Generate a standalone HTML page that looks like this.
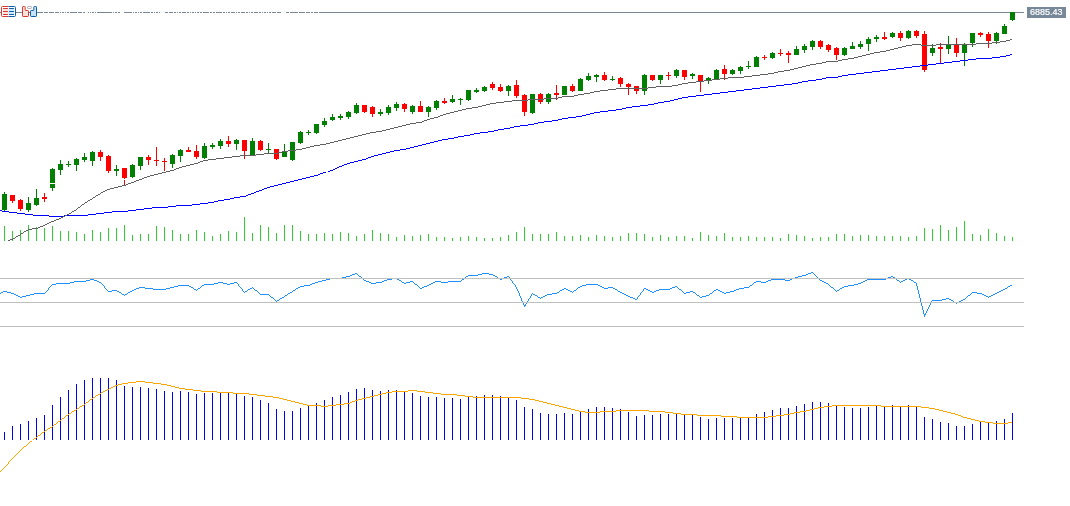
<!DOCTYPE html>
<html lang="en">
<head>
<meta charset="utf-8">
<title>Chart</title>
<style>
html,body{margin:0;padding:0;background:#fff;}
body{width:1070px;height:506px;overflow:hidden;position:relative;font-family:"Liberation Sans",sans-serif;}
#chart{position:absolute;left:0;top:0;display:block;}
#price{position:absolute;left:1027px;top:7px;width:39px;height:11px;background:#778899;color:#fff;font-size:9px;line-height:11px;text-indent:3px;white-space:nowrap;overflow:hidden;-webkit-text-stroke:0.2px #fff;}
.g{fill:#008000}.r{fill:#ff0000}
</style>
</head>
<body>
<svg id="chart" width="1070" height="506" viewBox="0 0 1070 506">
<g shape-rendering="crispEdges">
<path d="M4.5 226V241M12.5 231V241M20.5 230V241M28.5 225V241M36.5 227V241M44.5 228V241M52.5 226V241M60.5 231V241M68.5 231V241M76.5 232V241M84.5 234V241M92.5 230V241M100.5 232V241M108.5 228V241M116.5 228V241M124.5 225V241M132.5 235V241M140.5 234V241M148.5 234V241M156.5 226V241M164.5 227V241M172.5 230V241M180.5 234V241M188.5 234V241M196.5 230V241M204.5 232V241M212.5 236V241M220.5 234V241M228.5 231V241M236.5 232V241M244.5 217V241M252.5 233V241M260.5 225V241M268.5 227V241M276.5 233V241M284.5 225V241M292.5 225V241M300.5 231V241M308.5 234V241M316.5 234V241M324.5 233V241M332.5 234V241M340.5 232V241M348.5 233V241M356.5 236V241M364.5 234V241M372.5 230V241M380.5 233V241M388.5 234V241M396.5 237V241M404.5 235V241M412.5 236V241M420.5 235V241M428.5 234V241M436.5 237V241M444.5 237V241M452.5 238V241M460.5 237V241M468.5 236V241M476.5 237V241M484.5 238V241M492.5 238V241M500.5 237V241M508.5 235V241M516.5 232V241M524.5 227V241M532.5 234V241M540.5 234V241M548.5 234V241M556.5 232V241M564.5 236V241M572.5 236V241M580.5 235V241M588.5 237V241M596.5 235V241M604.5 236V241M612.5 237V241M620.5 236V241M628.5 233V241M636.5 233V241M644.5 234V241M652.5 237V241M660.5 235V241M668.5 237V241M676.5 236V241M684.5 236V241M692.5 238V241M700.5 232V241M708.5 235V241M716.5 236V241M724.5 233V241M732.5 237V241M740.5 237V241M748.5 236V241M756.5 237V241M764.5 237V241M772.5 237V241M780.5 238V241M788.5 234V241M796.5 235V241M804.5 236V241M812.5 238V241M820.5 237V241M828.5 237V241M836.5 234V241M844.5 234V241M852.5 236V241M860.5 235V241M868.5 235V241M876.5 236V241M884.5 236V241M892.5 236V241M900.5 236V241M908.5 237V241M916.5 236V241M924.5 228V241M932.5 229V241M940.5 225V241M948.5 230V241M956.5 227V241M964.5 221V241M972.5 234V241M980.5 235V241M988.5 229V241M996.5 233V241M1004.5 236V241M1012.5 237V241" stroke="#32cd32" stroke-width="1" fill="none"/>
<path d="M0 12.5H43M44 12.5H48M49 12.5H54M55 12.5H59M60 12.5H61M62 12.5H64M65 12.5H66M67 12.5H69M70 12.5H77M78 12.5H82M83 12.5H85M88 12.5H89M90 12.5H91M92 12.5H94M95 12.5H96M97 12.5H112M113 12.5H114M115 12.5H117M118 12.5H120M124 12.5H132M133 12.5H134M135 12.5H137M138 12.5H139M140 12.5H142M143 12.5H150M151 12.5H153M154 12.5H155M156 12.5H158M159 12.5H160M165 12.5H168M169 12.5H173M174 12.5H176M177 12.5H178M179 12.5H181M182 12.5H186M187 12.5H189M190 12.5H191M192 12.5H194M195 12.5H196M197 12.5H199M200 12.5H202M203 12.5H209M210 12.5H212M213 12.5H215M216 12.5H222M223 12.5H225M226 12.5H227M228 12.5H230M231 12.5H235M236 12.5H237M238 12.5H240M241 12.5H245M246 12.5H248M249 12.5H250M251 12.5H253M254 12.5H258M259 12.5H261M262 12.5H263M264 12.5H266M267 12.5H268M269 12.5H271M272 12.5H276M277 12.5H281M286 12.5H289M290 12.5H298M299 12.5H305M306 12.5H310M311 12.5H313M314 12.5H318M319 12.5H1024" stroke="#778899" stroke-width="1" fill="none"/>
<path class="g" d="M4 192h1v19h-1zM2 194h5v16h-5zM28 197h1v15h-1zM26 203h5v7h-5zM36 189h1v17h-1zM34 198h5v7h-5zM52 168h1v23h-1zM50 169h5v19h-5zM60 160h1v15h-1zM58 164h5v6h-5zM68 161h1v6h-1zM66 164h5v1h-5zM76 158h1v13h-1zM74 159h5v6h-5zM84 153h1v9h-1zM82 157h5v3h-5zM92 151h1v15h-1zM90 152h5v9h-5zM116 165h1v11h-1zM114 169h5v2h-5zM132 164h1v14h-1zM130 165h5v12h-5zM140 157h1v13h-1zM138 157h5v9h-5zM172 154h1v14h-1zM170 155h5v9h-5zM180 149h1v13h-1zM178 150h5v6h-5zM204 143h1v16h-1zM202 146h5v12h-5zM212 143h1v6h-1zM210 145h5v2h-5zM220 139h1v10h-1zM218 141h5v5h-5zM236 139h1v11h-1zM234 140h5v4h-5zM252 138h1v18h-1zM250 141h5v14h-5zM268 143h1v10h-1zM266 149h5v1h-5zM284 144h1v13h-1zM282 152h5v5h-5zM292 142h1v19h-1zM290 142h5v18h-5zM300 131h1v13h-1zM298 132h5v11h-5zM308 130h1v5h-1zM306 132h5v1h-5zM316 124h1v10h-1zM314 124h5v9h-5zM324 118h1v9h-1zM322 121h5v4h-5zM332 114h1v7h-1zM330 117h5v3h-5zM340 114h1v6h-1zM338 116h5v2h-5zM348 111h1v8h-1zM346 112h5v5h-5zM356 103h1v11h-1zM354 105h5v8h-5zM380 109h1v7h-1zM378 112h5v2h-5zM388 105h1v10h-1zM386 107h5v6h-5zM396 102h1v9h-1zM394 104h5v4h-5zM412 105h1v9h-1zM410 106h5v6h-5zM428 106h1v11h-1zM426 107h5v5h-5zM436 100h1v10h-1zM434 101h5v7h-5zM452 95h1v8h-1zM450 99h5v3h-5zM460 98h1v7h-1zM458 99h5v1h-5zM468 90h1v11h-1zM466 90h5v10h-5zM476 88h1v5h-1zM474 90h5v2h-5zM484 86h1v6h-1zM482 87h5v4h-5zM508 85h1v11h-1zM506 86h5v5h-5zM532 94h1v20h-1zM530 94h5v19h-5zM548 93h1v11h-1zM546 94h5v8h-5zM564 86h1v9h-1zM562 86h5v9h-5zM580 78h1v13h-1zM578 79h5v12h-5zM588 73h1v8h-1zM586 76h5v4h-5zM596 74h1v8h-1zM594 75h5v2h-5zM612 76h1v5h-1zM610 79h5v1h-5zM644 74h1v21h-1zM642 75h5v16h-5zM660 75h1v9h-1zM658 75h5v5h-5zM676 69h1v9h-1zM674 70h5v6h-5zM692 73h1v6h-1zM690 74h5v2h-5zM708 77h1v7h-1zM706 78h5v2h-5zM716 69h1v11h-1zM714 70h5v10h-5zM732 69h1v6h-1zM730 70h5v4h-5zM740 66h1v8h-1zM738 67h5v4h-5zM748 61h1v8h-1zM746 66h5v1h-5zM756 56h1v11h-1zM754 57h5v10h-5zM772 52h1v7h-1zM770 53h5v5h-5zM796 46h1v9h-1zM794 49h5v6h-5zM804 44h1v9h-1zM802 46h5v4h-5zM812 40h1v10h-1zM810 41h5v6h-5zM844 47h1v9h-1zM842 48h5v7h-5zM852 42h1v7h-1zM850 46h5v3h-5zM860 41h1v8h-1zM858 44h5v3h-5zM868 37h1v14h-1zM866 39h5v5h-5zM876 35h1v7h-1zM874 37h5v2h-5zM892 32h1v6h-1zM890 33h5v4h-5zM908 30h1v9h-1zM906 31h5v7h-5zM932 44h1v12h-1zM930 48h5v5h-5zM948 36h1v18h-1zM946 45h5v4h-5zM964 43h1v23h-1zM962 45h5v8h-5zM972 33h1v14h-1zM970 33h5v10h-5zM996 32h1v12h-1zM994 33h5v8h-5zM1004 24h1v10h-1zM1002 26h5v8h-5zM1012 12h1v9h-1zM1010 12h5v8h-5z"/>
<path class="r" d="M12 195h1v8h-1zM10 195h5v6h-5zM20 199h1v12h-1zM18 200h5v9h-5zM44 193h1v9h-1zM42 197h5v2h-5zM100 150h1v11h-1zM98 152h5v5h-5zM108 155h1v18h-1zM106 156h5v15h-5zM124 168h1v17h-1zM122 168h5v10h-5zM148 155h1v10h-1zM146 157h5v3h-5zM156 147h1v19h-1zM154 160h5v1h-5zM164 158h1v13h-1zM162 161h5v1h-5zM188 147h1v5h-1zM186 150h5v2h-5zM196 145h1v14h-1zM194 151h5v6h-5zM228 136h1v11h-1zM226 141h5v3h-5zM244 140h1v19h-1zM242 140h5v11h-5zM260 140h1v11h-1zM258 141h5v9h-5zM276 149h1v11h-1zM274 149h5v10h-5zM364 105h1v8h-1zM362 105h5v7h-5zM372 106h1v11h-1zM370 107h5v7h-5zM404 103h1v9h-1zM402 104h5v5h-5zM420 101h1v11h-1zM418 106h5v6h-5zM444 98h1v6h-1zM442 101h5v2h-5zM492 82h1v8h-1zM490 84h5v4h-5zM500 84h1v8h-1zM498 87h5v4h-5zM516 80h1v18h-1zM514 85h5v11h-5zM524 94h1v22h-1zM522 95h5v17h-5zM540 93h1v11h-1zM538 94h5v8h-5zM556 85h1v15h-1zM554 93h5v2h-5zM572 84h1v8h-1zM570 86h5v5h-5zM604 72h1v9h-1zM602 75h5v5h-5zM620 77h1v10h-1zM618 78h5v6h-5zM628 83h1v12h-1zM626 84h5v3h-5zM636 86h1v8h-1zM634 86h5v5h-5zM652 75h1v6h-1zM650 75h5v5h-5zM668 72h1v8h-1zM666 75h5v1h-5zM684 70h1v10h-1zM682 70h5v7h-5zM700 75h1v17h-1zM698 75h5v6h-5zM724 65h1v15h-1zM722 69h5v5h-5zM764 55h1v5h-1zM762 57h5v1h-5zM780 49h1v7h-1zM778 53h5v1h-5zM788 51h1v12h-1zM786 53h5v2h-5zM820 40h1v9h-1zM818 41h5v6h-5zM828 44h1v8h-1zM826 45h5v5h-5zM836 47h1v13h-1zM834 48h5v7h-5zM884 32h1v8h-1zM882 37h5v2h-5zM900 31h1v10h-1zM898 33h5v5h-5zM916 30h1v8h-1zM914 31h5v5h-5zM924 31h1v41h-1zM922 34h5v36h-5zM940 43h1v20h-1zM938 47h5v2h-5zM956 38h1v19h-1zM954 45h5v8h-5zM980 32h1v5h-1zM978 33h5v2h-5zM988 32h1v16h-1zM986 34h5v7h-5z"/>
<path d="M-1 210.5h3M2 211.5h7M9 212.5h8M17 213.5h8M25 214.5h8M33 215.5h16M49 216.5h15M64 215.5h24M88 214.5h8M96 213.5h8M104 212.5h8M112 211.5h16M128 210.5h8M136 209.5h8M144 208.5h8M152 207.5h16M168 206.5h8M176 205.5h16M192 204.5h8M200 203.5h8M208 202.5h6M214 201.5h4M218 200.5h6M224 199.5h6M230 198.5h4M234 197.5h6M240 196.5h6M246 195.5h2M248 194.5h3M251 193.5h3M254 192.5h2M256 191.5h3M259 190.5h3M262 189.5h2M264 188.5h3M267 187.5h3M270 186.5h4M274 185.5h4M278 184.5h4M282 183.5h4M286 182.5h4M290 181.5h4M294 180.5h4M298 179.5h4M302 178.5h4M306 177.5h4M310 176.5h4M314 175.5h4M318 174.5h2M320 173.5h3M323 172.5h3M326 171.5h4M330 170.5h3M333 169.5h2M335 168.5h2M337 167.5h2M339 166.5h3M342 165.5h2M344 164.5h3M347 163.5h3M350 162.5h4M354 161.5h4M358 160.5h4M362 159.5h4M366 158.5h2M368 157.5h3M371 156.5h3M374 155.5h4M378 154.5h4M382 153.5h4M386 152.5h4M390 151.5h4M394 150.5h6M400 149.5h6M406 148.5h4M410 147.5h4M414 146.5h4M418 145.5h4M422 144.5h4M426 143.5h4M430 142.5h4M434 141.5h4M438 140.5h4M442 139.5h6M448 138.5h6M454 137.5h4M458 136.5h6M464 135.5h6M470 134.5h4M474 133.5h6M480 132.5h8M488 131.5h6M494 130.5h4M498 129.5h6M504 128.5h6M510 127.5h4M514 126.5h6M520 125.5h8M528 124.5h6M534 123.5h4M538 122.5h6M544 121.5h8M552 120.5h6M558 119.5h4M562 118.5h6M568 117.5h8M576 116.5h6M582 115.5h4M586 114.5h4M590 113.5h4M594 112.5h6M600 111.5h8M608 110.5h8M616 109.5h6M622 108.5h4M626 107.5h6M632 106.5h8M640 105.5h8M648 104.5h6M654 103.5h4M658 102.5h6M664 101.5h6M670 100.5h4M674 99.5h4M678 98.5h4M682 97.5h6M688 96.5h8M696 95.5h8M704 94.5h8M712 93.5h8M720 92.5h8M728 91.5h8M736 90.5h8M744 89.5h8M752 88.5h8M760 87.5h8M768 86.5h8M776 85.5h8M784 84.5h8M792 83.5h6M798 82.5h4M802 81.5h6M808 80.5h8M816 79.5h6M822 78.5h4M826 77.5h12M838 76.5h4M842 75.5h6M848 74.5h8M856 73.5h8M864 72.5h8M872 71.5h8M880 70.5h8M888 69.5h8M896 68.5h8M904 67.5h8M912 66.5h8M920 65.5h8M928 64.5h8M936 63.5h8M944 62.5h8M952 61.5h8M960 60.5h8M968 59.5h8M976 58.5h16M992 57.5h8M1000 56.5h6M1006 55.5h4M1010 54.5h2" fill="none" stroke="#0000ff" stroke-width="1"/>
<path d="M50 183h5v1h-5zM124 179h1v1h-1zM326 171h2v1h-2z" fill="#fff"/>
<path d="M8 240.5h2M10 239.5h3M13 238.5h2M16 236.5h2M18 235.5h2M21 233.5h2M24 231.5h2M26 230.5h2M28 229.5h4M32 228.5h6M38 227.5h2M40 226.5h3M43 225.5h2M45 224.5h2M47 223.5h2M49 222.5h2M51 221.5h3M54 220.5h2M56 219.5h3M59 218.5h2M61 217.5h2M63 216.5h2M65 215.5h2M67 214.5h2M69 213.5h2M72 211.5h2M74 210.5h2M78 207.5h2M82 204.5h2M85 202.5h2M88 200.5h2M90 199.5h2M93 197.5h2M96 195.5h2M98 194.5h2M101 192.5h2M103 191.5h2M105 190.5h2M107 189.5h3M110 188.5h4M114 187.5h4M118 186.5h4M122 185.5h4M126 184.5h2M128 183.5h3M131 182.5h3M134 181.5h2M136 180.5h3M139 179.5h3M142 178.5h2M144 177.5h3M147 176.5h3M150 175.5h4M154 174.5h4M158 173.5h4M162 172.5h4M166 171.5h4M170 170.5h4M174 169.5h2M176 168.5h3M179 167.5h3M182 166.5h4M186 165.5h4M190 164.5h4M194 163.5h4M198 162.5h2M200 161.5h3M203 160.5h5M208 159.5h8M216 158.5h8M224 157.5h8M232 156.5h8M240 155.5h16M256 154.5h8M264 153.5h14M278 152.5h4M282 151.5h6M288 150.5h8M296 149.5h6M302 148.5h4M306 147.5h4M310 146.5h4M314 145.5h6M320 144.5h6M326 143.5h4M330 142.5h4M334 141.5h4M338 140.5h4M342 139.5h4M346 138.5h4M350 137.5h4M354 136.5h4M358 135.5h4M362 134.5h4M366 133.5h4M370 132.5h6M376 131.5h6M382 130.5h4M386 129.5h4M390 128.5h4M394 127.5h4M398 126.5h4M402 125.5h4M406 124.5h4M410 123.5h6M416 122.5h6M422 121.5h2M424 120.5h3M427 119.5h3M430 118.5h4M434 117.5h4M438 116.5h2M440 115.5h3M443 114.5h3M446 113.5h4M450 112.5h4M454 111.5h4M458 110.5h4M462 109.5h4M466 108.5h6M472 107.5h6M478 106.5h4M482 105.5h4M486 104.5h4M490 103.5h6M496 102.5h8M504 101.5h8M512 100.5h16M528 99.5h16M544 98.5h14M558 97.5h4M562 96.5h12M574 95.5h4M578 94.5h6M584 93.5h6M590 92.5h4M594 91.5h6M600 90.5h8M608 89.5h8M616 88.5h32M648 87.5h8M656 86.5h16M672 85.5h6M678 84.5h4M682 83.5h6M688 82.5h8M696 81.5h8M704 80.5h8M712 79.5h8M720 78.5h8M728 77.5h16M744 76.5h8M752 75.5h8M760 74.5h8M768 73.5h6M774 72.5h4M778 71.5h6M784 70.5h6M790 69.5h4M794 68.5h4M798 67.5h4M802 66.5h4M806 65.5h4M810 64.5h6M816 63.5h6M822 62.5h4M826 61.5h12M838 60.5h4M842 59.5h6M848 58.5h6M854 57.5h4M858 56.5h4M862 55.5h4M866 54.5h4M870 53.5h4M874 52.5h6M880 51.5h6M886 50.5h4M890 49.5h4M894 48.5h4M898 47.5h4M902 46.5h4M906 45.5h6M912 44.5h9M921 45.5h15M936 44.5h40M976 43.5h16M992 42.5h8M1000 41.5h6M1006 40.5h4M1010 39.5h2M15.5 237v1M20.5 234v1M23.5 232v1M71.5 212v1M76.5 209v1M77.5 208v1M80.5 206v1M81.5 205v1M84.5 203v1M87.5 201v1M92.5 198v1M95.5 196v1M100.5 193v1" fill="none" stroke="#606060" stroke-width="1"/>
<path d="M-1 293.5h2M1 292.5h2M3 291.5h4M7 292.5h4M11 293.5h3M14 294.5h2M16 295.5h2M18 296.5h2M20 297.5h2M22 296.5h4M26 295.5h4M30 294.5h4M34 293.5h11M52 284.5h4M56 283.5h14M70 282.5h4M74 281.5h12M86 280.5h4M90 279.5h4M94 280.5h3M97 281.5h2M99 282.5h2M108 291.5h4M112 290.5h5M117 291.5h2M119 292.5h2M122 294.5h2M125 294.5h2M128 292.5h2M130 291.5h2M132 290.5h2M134 289.5h2M136 288.5h3M139 287.5h6M145 288.5h8M153 289.5h13M166 288.5h4M170 287.5h4M174 286.5h4M178 285.5h11M189 286.5h2M191 287.5h2M194 289.5h2M198 288.5h2M202 285.5h2M204 284.5h10M214 283.5h4M218 282.5h5M223 283.5h4M227 284.5h3M230 283.5h4M234 282.5h3M245 291.5h2M248 289.5h2M250 288.5h2M255 290.5h2M260 294.5h9M271 297.5h2M277 300.5h2M280 298.5h2M282 297.5h2M285 295.5h2M288 293.5h2M290 292.5h2M293 290.5h2M296 288.5h2M298 287.5h2M300 286.5h4M304 285.5h6M310 284.5h2M312 283.5h3M315 282.5h3M318 281.5h4M322 280.5h4M326 279.5h4M330 278.5h12M342 277.5h4M346 276.5h4M350 275.5h2M352 274.5h3M355 273.5h2M359 276.5h2M364 280.5h2M366 281.5h3M369 282.5h2M371 283.5h5M376 282.5h6M382 281.5h2M384 280.5h3M387 279.5h5M392 278.5h5M397 279.5h2M399 280.5h2M402 282.5h2M404 283.5h2M406 282.5h4M410 281.5h3M415 284.5h2M420 288.5h2M422 287.5h2M424 286.5h3M427 285.5h2M429 284.5h2M431 283.5h2M433 282.5h2M435 281.5h6M441 282.5h7M448 281.5h13M462 279.5h2M466 276.5h2M468 275.5h10M478 274.5h4M482 273.5h7M489 274.5h4M493 275.5h2M495 276.5h2M498 278.5h2M500 279.5h2M502 278.5h2M504 277.5h3M507 276.5h2M524 305.5h2M533 294.5h2M535 295.5h2M538 297.5h2M541 297.5h2M543 296.5h2M545 295.5h2M547 294.5h5M552 293.5h5M557 292.5h2M560 290.5h2M562 289.5h2M564 288.5h2M566 289.5h2M568 290.5h2M570 291.5h2M574 290.5h2M578 287.5h2M580 286.5h2M582 285.5h4M586 284.5h12M598 285.5h2M600 286.5h2M602 287.5h2M604 288.5h4M608 287.5h5M613 288.5h2M615 289.5h2M618 291.5h2M620 292.5h2M622 293.5h2M624 294.5h2M626 295.5h2M628 296.5h2M630 297.5h3M633 298.5h2M635 299.5h2M644 288.5h2M646 289.5h2M648 290.5h2M650 291.5h2M652 292.5h2M654 291.5h2M656 290.5h3M659 289.5h11M670 288.5h2M672 287.5h3M675 286.5h2M679 289.5h2M684 293.5h2M686 292.5h4M690 291.5h3M693 292.5h2M697 295.5h2M700 297.5h2M702 296.5h4M706 295.5h3M710 293.5h2M714 290.5h2M716 289.5h2M718 290.5h2M720 291.5h2M722 292.5h2M724 293.5h2M726 292.5h4M730 291.5h4M734 290.5h2M736 289.5h3M739 288.5h5M744 287.5h5M750 285.5h2M754 282.5h2M756 281.5h5M761 282.5h5M766 281.5h2M768 280.5h3M771 279.5h14M785 280.5h5M790 279.5h2M792 278.5h3M795 277.5h3M798 276.5h4M802 275.5h4M806 274.5h2M808 273.5h3M811 272.5h2M820 280.5h2M822 281.5h2M824 282.5h2M826 283.5h2M831 287.5h2M837 290.5h2M840 288.5h2M842 287.5h2M844 286.5h4M848 285.5h6M854 284.5h4M858 283.5h3M861 282.5h2M863 281.5h2M865 280.5h2M867 279.5h19M886 278.5h2M888 277.5h3M891 276.5h2M893 277.5h2M897 280.5h2M901 281.5h2M903 280.5h2M905 279.5h2M907 278.5h2M909 279.5h2M911 280.5h2M914 282.5h2M924 314.5h2M932 300.5h10M942 299.5h4M946 298.5h3M949 299.5h2M951 300.5h2M954 302.5h2M957 302.5h2M959 301.5h2M961 300.5h2M963 299.5h2M968 295.5h2M972 292.5h5M977 293.5h5M982 294.5h2M984 295.5h2M986 296.5h2M989 296.5h2M991 295.5h2M993 294.5h2M995 293.5h2M997 292.5h2M999 291.5h2M1001 290.5h2M1003 289.5h2M1005 288.5h2M1008 286.5h2M1010 285.5h2M45.5 292v1M46.5 291v1M47.5 290v1M48.5 288v2M49.5 287v1M50.5 286v1M51.5 285v1M101.5 283v1M102.5 284v1M103.5 285v1M104.5 286v2M105.5 288v1M106.5 289v1M107.5 290v1M121.5 293v1M124.5 295v1M127.5 293v1M193.5 288v1M196.5 290v1M197.5 289v1M200.5 287v1M201.5 286v1M237.5 283v1M238.5 284v2M239.5 286v1M240.5 287v1M241.5 288v1M242.5 289v2M243.5 291v1M244.5 292v1M247.5 290v1M252.5 287v1M253.5 288v1M254.5 289v1M257.5 291v1M258.5 292v1M259.5 293v1M269.5 295v1M270.5 296v1M273.5 298v1M274.5 299v1M275.5 300v1M276.5 301v1M279.5 299v1M284.5 296v1M287.5 294v1M292.5 291v1M295.5 289v1M357.5 274v1M358.5 275v1M361.5 277v1M362.5 278v1M363.5 279v1M401.5 281v1M413.5 282v1M414.5 283v1M417.5 285v1M418.5 286v1M419.5 287v1M461.5 280v1M464.5 278v1M465.5 277v1M497.5 277v1M509.5 277v2M510.5 279v1M511.5 280v1M512.5 281v2M513.5 283v1M514.5 284v1M515.5 285v2M516.5 287v2M517.5 289v2M518.5 291v2M519.5 293v3M520.5 296v2M521.5 298v3M522.5 301v2M523.5 303v2M524.5 306v1M525.5 304v1M526.5 302v2M527.5 301v1M528.5 299v2M529.5 298v1M530.5 296v2M531.5 294v2M532.5 293v1M537.5 296v1M540.5 298v1M559.5 291v1M572.5 292v1M573.5 291v1M576.5 289v1M577.5 288v1M617.5 290v1M637.5 297v2M638.5 296v1M639.5 295v1M640.5 293v2M641.5 292v1M642.5 291v1M643.5 289v2M677.5 287v1M678.5 288v1M681.5 290v1M682.5 291v1M683.5 292v1M695.5 293v1M696.5 294v1M699.5 296v1M709.5 294v1M712.5 292v1M713.5 291v1M749.5 286v1M752.5 284v1M753.5 283v1M813.5 273v1M814.5 274v1M815.5 275v1M816.5 276v1M817.5 277v1M818.5 278v1M819.5 279v1M828.5 284v1M829.5 285v1M830.5 286v1M833.5 288v1M834.5 289v1M835.5 290v1M836.5 291v1M839.5 289v1M895.5 278v1M896.5 279v1M899.5 281v1M900.5 282v1M913.5 281v1M916.5 283v3M917.5 286v4M918.5 290v4M919.5 294v4M920.5 298v4M921.5 302v4M922.5 306v4M923.5 310v4M924.5 315v2M925.5 313v1M926.5 311v2M927.5 309v2M928.5 307v2M929.5 305v2M930.5 303v2M931.5 301v2M953.5 301v1M956.5 303v1M965.5 298v1M966.5 297v1M967.5 296v1M970.5 294v1M971.5 293v1M988.5 297v1M1007.5 287v1" fill="none" stroke="#1e90ff" stroke-width="1"/>
<path d="M0 278.5H1024M0 302.5H1024M0 326.5H1024" stroke="#c0c0c0" stroke-width="1" fill="none"/>
<path d="M4.5 432V440M12.5 426V440M20.5 424V440M28.5 421V440M36.5 418V440M44.5 415V440M52.5 405V440M60.5 397V440M68.5 390V440M76.5 384V440M84.5 380V440M92.5 378V440M100.5 378V440M108.5 378V440M116.5 380V440M124.5 386V440M132.5 387V440M140.5 387V440M148.5 388V440M156.5 389V440M164.5 391V440M172.5 392V440M180.5 391V440M188.5 392V440M196.5 394V440M204.5 393V440M212.5 393V440M220.5 392V440M228.5 392V440M236.5 394V440M244.5 396V440M252.5 397V440M260.5 400V440M268.5 403V440M276.5 409V440M284.5 411V440M292.5 411V440M300.5 408V440M308.5 406V440M316.5 403V440M324.5 400V440M332.5 397V440M340.5 395V440M348.5 392V440M356.5 389V440M364.5 388V440M372.5 390V440M380.5 391V440M388.5 390V440M396.5 390V440M404.5 392V440M412.5 393V440M420.5 396V440M428.5 397V440M436.5 397V440M444.5 398V440M452.5 398V440M460.5 399V440M468.5 397V440M476.5 396V440M484.5 395V440M492.5 395V440M500.5 396V440M508.5 398V440M516.5 400V440M524.5 407V440M532.5 409V440M540.5 413V440M548.5 414V440M556.5 414V440M564.5 413V440M572.5 414V440M580.5 411V440M588.5 409V440M596.5 407V440M604.5 407V440M612.5 408V440M620.5 409V440M628.5 412V440M636.5 416V440M644.5 415V440M652.5 415V440M660.5 414V440M668.5 414V440M676.5 413V440M684.5 414V440M692.5 415V440M700.5 417V440M708.5 419V440M716.5 418V440M724.5 418V440M732.5 418V440M740.5 418V440M748.5 417V440M756.5 414V440M764.5 412V440M772.5 410V440M780.5 408V440M788.5 408V440M796.5 406V440M804.5 404V440M812.5 402V440M820.5 402V440M828.5 403V440M836.5 406V440M844.5 407V440M852.5 408V440M860.5 408V440M868.5 407V440M876.5 406V440M884.5 406V440M892.5 405V440M900.5 406V440M908.5 405V440M916.5 406V440M924.5 417V440M932.5 419V440M940.5 422V440M948.5 423V440M956.5 426V440M964.5 426V440M972.5 424V440M980.5 422V440M988.5 422V440M996.5 421V440M1004.5 419V440M1012.5 413V440" stroke="#0000ff" stroke-width="1" fill="none"/>
<path d="M24 446.5h2M30 441.5h2M34 438.5h2M38 435.5h2M42 432.5h2M45 430.5h2M48 428.5h2M50 427.5h2M54 424.5h2M58 421.5h2M62 418.5h2M66 415.5h2M69 413.5h2M72 411.5h2M74 410.5h2M77 408.5h2M80 406.5h2M82 405.5h2M86 402.5h2M90 399.5h2M93 397.5h2M96 395.5h2M98 394.5h2M101 392.5h2M103 391.5h2M105 390.5h2M107 389.5h2M109 388.5h2M111 387.5h2M113 386.5h2M115 385.5h3M118 384.5h4M122 383.5h6M128 382.5h8M136 381.5h9M145 382.5h8M153 383.5h8M161 384.5h6M167 385.5h4M171 386.5h4M175 387.5h4M179 388.5h6M185 389.5h8M193 390.5h8M201 391.5h16M217 392.5h16M233 393.5h16M249 394.5h8M257 395.5h8M265 396.5h8M273 397.5h6M279 398.5h4M283 399.5h4M287 400.5h4M291 401.5h4M295 402.5h4M299 403.5h4M303 404.5h4M307 405.5h14M321 406.5h7M328 405.5h8M336 404.5h8M344 403.5h6M350 402.5h2M352 401.5h3M355 400.5h3M358 399.5h4M362 398.5h4M366 397.5h4M370 396.5h4M374 395.5h4M378 394.5h4M382 393.5h4M386 392.5h6M392 391.5h16M408 390.5h9M417 391.5h8M425 392.5h8M433 393.5h8M441 394.5h16M457 395.5h8M465 396.5h8M473 397.5h48M521 398.5h8M529 399.5h6M535 400.5h4M539 401.5h4M543 402.5h4M547 403.5h4M551 404.5h4M555 405.5h4M559 406.5h4M563 407.5h4M567 408.5h4M571 409.5h4M575 410.5h4M579 411.5h6M585 412.5h15M600 411.5h16M616 410.5h33M649 411.5h16M665 412.5h8M673 413.5h8M681 414.5h16M697 415.5h24M721 416.5h16M737 417.5h31M768 416.5h8M776 415.5h8M784 414.5h6M790 413.5h4M794 412.5h6M800 411.5h6M806 410.5h4M810 409.5h4M814 408.5h4M818 407.5h6M824 406.5h8M832 405.5h49M881 406.5h40M921 407.5h8M929 408.5h6M935 409.5h4M939 410.5h4M943 411.5h4M947 412.5h4M951 413.5h4M955 414.5h3M958 415.5h3M961 416.5h2M963 417.5h4M967 418.5h4M971 419.5h4M975 420.5h4M979 421.5h6M985 422.5h8M993 423.5h15M1008 422.5h4M-1.5 472v1M0.5 471v1M1.5 470v1M2.5 469v1M3.5 468v1M4.5 467v1M5.5 466v1M6.5 465v1M7.5 464v1M8.5 462v2M9.5 461v1M10.5 460v1M11.5 459v1M12.5 458v1M13.5 457v1M14.5 456v1M15.5 455v1M16.5 454v1M17.5 453v1M18.5 452v1M19.5 451v1M20.5 450v1M21.5 449v1M22.5 448v1M23.5 447v1M26.5 445v1M27.5 444v1M28.5 443v1M29.5 442v1M32.5 440v1M33.5 439v1M36.5 437v1M37.5 436v1M40.5 434v1M41.5 433v1M44.5 431v1M47.5 429v1M52.5 426v1M53.5 425v1M56.5 423v1M57.5 422v1M60.5 420v1M61.5 419v1M64.5 417v1M65.5 416v1M68.5 414v1M71.5 412v1M76.5 409v1M79.5 407v1M84.5 404v1M85.5 403v1M88.5 401v1M89.5 400v1M92.5 398v1M95.5 396v1M100.5 393v1" fill="none" stroke="#ffa500" stroke-width="1"/>
<path d="M32 440h1v1h-1z" fill="#fff"/>
</g>
<g fill="none" stroke-width="1">
<rect x="1.5" y="6.5" width="14" height="10" rx="1" fill="#fff" stroke="none"/>
<rect x="3" y="8" width="5.5" height="7" fill="#ffe3da" stroke="none"/>
<rect x="8.5" y="8" width="5.5" height="7" fill="#cde8ff" stroke="none"/>
<path d="M8.5 6.5H2.5a1 1 0 0 0-1 1V15.5a1 1 0 0 0 1 1H8.5" stroke="#d9362c"/>
<path d="M8.5 6.5H14.5a1 1 0 0 1 1 1V15.5a1 1 0 0 1-1 1H8.5" stroke="#0c5fa8"/>
<path d="M3.5 8.5H7.5M3.5 11.5H7.5M3.5 14.5H7.5" stroke="#d9362c" stroke-linecap="round"/>
<path d="M9.5 8.5H13.5M9.5 11.5H13.5M9.5 14.5H13.5" stroke="#0c5fa8" stroke-linecap="round"/>
<path d="M23.2 6.5H24.5a.7 .7 0 0 1 .7 .7V9.8a.7 .7 0 0 0 .7 .7H27.8a.7 .7 0 0 1 .7 .7V15.8a.7 .7 0 0 1-.7 .7H23.2a.7 .7 0 0 1-.7-.7V7.2a.7 .7 0 0 1 .7-.7z" fill="#ffe3da" stroke="#d9362c"/>
<path d="M35.8 6.5H34.5a.7 .7 0 0 0-.7 .7V9.8a.7 .7 0 0 1-.7 .7H31.2a.7 .7 0 0 0-.7 .7V15.8a.7 .7 0 0 0 .7 .7H35.8a.7 .7 0 0 0 .7-.7V7.2a.7 .7 0 0 0-.7-.7z" fill="#c5e4fb" stroke="#0c5fa8"/>
<rect x="27.5" y="6.5" width="4" height="2" rx="0.6" fill="#fff" stroke="#a6a6a6" stroke-width="0.8"/>
</g>
</svg>
<div id="price">6885.43</div>
</body>
</html>
